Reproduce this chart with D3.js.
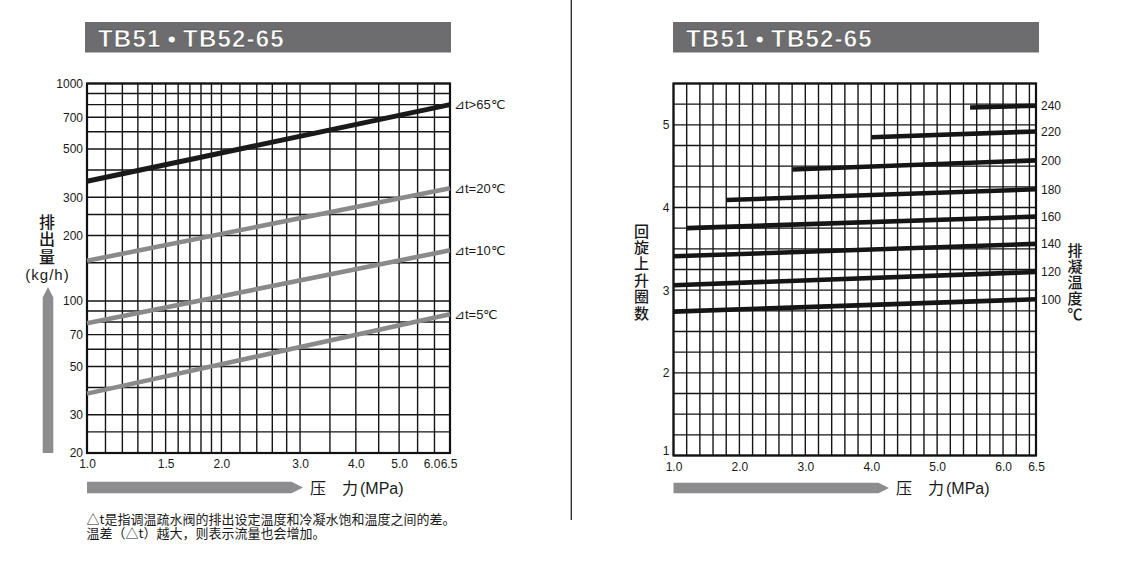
<!DOCTYPE html>
<meta charset="utf-8">
<style>
body { margin: 0; background: #fff; }
svg { display: block; }
text { font-family: "Liberation Sans", Arial, sans-serif; fill: #1a1a1a; }
.cjk { font-family: "Noto Sans CJK SC", sans-serif; }
.grid line { stroke: #151515; stroke-width: 1.4px; }
</style>
<body>
<script src="https://d3js.org/d3.v7.min.js"></script>
<script>
// left chart: discharge (kg/h) vs pressure (MPa), log-log
var pressTicksL = [1.0, 1.5, 2.0, 3.0, 4.0, 5.0, 6.0, 6.5];
var pressGridL = [1.0, 1.1, 1.2, 1.3, 1.4, 1.5, 1.6, 1.7, 1.8, 1.9, 2.0,
                  2.2, 2.4, 2.6, 2.8, 3.0, 3.5, 4.0, 4.5, 5.0, 5.5, 6.0, 6.5];
var flowTicks = [20, 30, 50, 70, 100, 200, 300, 500, 700, 1000];
var flowGrid = [20, 25, 30, 40, 50, 60, 70, 80, 90, 100, 150,
                200, 250, 300, 400, 500, 600, 700, 800, 900, 1000];
var dtLabels = ["⊿t>65℃", "⊿t=20℃", "⊿t=10℃", "⊿t=5℃"];
var dtFlowAt1 = [355, 153, 79, 37.5];
var dtFlowAt65 = [800, 330, 171, 87];

// right chart: adjusting turns vs pressure, one line per discharge temperature
var pressTicksR = [1.0, 2.0, 3.0, 4.0, 5.0, 6.0, 6.5];
var turnTicks = [1, 2, 3, 4, 5];
var tempLabels = [100, 120, 140, 160, 180, 200, 220, 240];
var tempStartPress = [1.0, 1.0, 1.0, 1.2, 1.8, 2.8, 4.0, 5.5];
var tempStartTurns = [2.74, 3.06, 3.41, 3.75, 4.09, 4.46, 4.85, 5.21];
var tempEndTurns = [2.89, 3.22, 3.56, 3.89, 4.22, 4.57, 4.92, 5.23];

var title = "TB51\u2009\u2022\u2009TB52-65";
var footnote = ["△t是指调温疏水阀的排出设定温度和冷凝水饱和温度之间的差。",
                "温差（△t）越大，则表示流量也会增加。"];

var width = 1123, height = 572;

var svg = d3.select("body").append("svg")
    .attr("width", width)
    .attr("height", height);

svg.append("rect").attr("width", width).attr("height", height).attr("fill", "#fff");

var xL = d3.scaleLog().domain([1, 6.5]).range([87, 450]);
var yL = d3.scaleLog().domain([20, 1000]).range([453, 83.5]);
var xR = d3.scaleLinear().domain([1, 6.5]).range([673.5, 1036]);
var yR = d3.scaleLinear().domain([1, 5.5]).range([455.5, 83.5]);

// divider
svg.append("line")
    .attr("x1", 571.3).attr("x2", 571.3)
    .attr("y1", 0).attr("y2", 520)
    .attr("stroke", "#222").attr("stroke-width", 1.3);

function titleBar(x0, x1) {
  svg.append("rect")
      .attr("x", x0).attr("y", 22)
      .attr("width", x1 - x0).attr("height", 30.5)
      .attr("fill", "#6d6d6f");
  svg.append("text")
      .attr("x", x0 + 13).attr("y", 46.5)
      .style("font-size", "24px")
      .style("font-weight", "bold")
      .style("letter-spacing", "1.2px")
      .style("fill", "#fff")
      .style("stroke", "#2a2a2a")
      .style("stroke-width", "0.4px")
      .text(title);
}
titleBar(85, 451);
titleBar(673, 1039);

function grid(xs, ys, xVals, yVals) {
  var g = svg.append("g").attr("class", "grid");
  var xr = xs.range(), yr = ys.range();
  g.selectAll(".v").data(xVals).enter().append("line")
      .attr("x1", function(d) { return xs(d); })
      .attr("x2", function(d) { return xs(d); })
      .attr("y1", yr[0]).attr("y2", yr[1]);
  g.selectAll(".h").data(yVals).enter().append("line")
      .attr("x1", xr[0]).attr("x2", xr[1])
      .attr("y1", function(d) { return ys(d); })
      .attr("y2", function(d) { return ys(d); });
  svg.append("rect")
      .attr("x", xr[0]).attr("y", yr[1])
      .attr("width", xr[1] - xr[0]).attr("height", yr[0] - yr[1])
      .attr("fill", "none").attr("stroke", "#111").attr("stroke-width", 2.2);
}

// ---------- left chart ----------
grid(xL, yL, pressGridL, flowGrid);

var lineL = d3.line()
    .x(function(d) { return xL(d[0]); })
    .y(function(d) { return yL(d[1]); });

var dtSeries = dtLabels.map(function(lab, i) {
  return { label: lab, pts: [[1.0, dtFlowAt1[i]], [6.5, dtFlowAt65[i]]], first: i === 0 };
});

svg.append("g").selectAll("path").data(dtSeries).enter().append("path")
    .attr("d", function(d) { return lineL(d.pts); })
    .attr("fill", "none")
    .attr("stroke", function(d) { return d.first ? "#1a1a1a" : "#8a8a8a"; })
    .attr("stroke-width", function(d) { return d.first ? 5 : 4.6; });

svg.append("g").selectAll("text").data(dtSeries).enter().append("text")
    .attr("x", xL(6.5) + 4)
    .attr("y", function(d) { return yL(d.pts[1][1]); })
    .attr("dy", "0.36em")
    .style("font-size", "13px")
    .text(function(d) { return d.label; });

svg.append("g")
    .attr("transform", "translate(" + xL.range()[0] + ",0)")
    .call(d3.axisLeft(yL).tickValues(flowTicks).tickFormat(d3.format("d")).tickSize(0).tickPadding(4));
var axB = svg.append("g")
    .attr("transform", "translate(0," + yL.range()[0] + ")")
    .call(d3.axisBottom(xL).tickValues(pressTicksL).tickFormat(d3.format(".1f")).tickSize(0).tickPadding(6));
axB.selectAll(".tick text").attr("dx", function(d) { return d === 6.0 ? -3 : (d === 6.5 ? -1.5 : 0); });

// ---------- right chart ----------
grid(xR, yR, d3.range(28).map(function(i) { return 1 + i * 0.2; }),
     d3.range(19).map(function(i) { return 1 + i * 0.25; }));

var lineR = d3.line()
    .x(function(d) { return xR(d[0]); })
    .y(function(d) { return yR(d[1]); });

var tempSeries = tempLabels.map(function(t, i) {
  return { label: t, pts: [[tempStartPress[i], tempStartTurns[i]], [6.5, tempEndTurns[i]]] };
});

svg.append("g").selectAll("path").data(tempSeries).enter().append("path")
    .attr("d", function(d) { return lineR(d.pts); })
    .attr("fill", "none")
    .attr("stroke", "#151515")
    .attr("stroke-width", 4.6);

svg.append("g").selectAll("text").data(tempSeries).enter().append("text")
    .attr("x", xR(6.5) + 5)
    .attr("y", function(d) { return yR(d.pts[1][1]); })
    .attr("dy", "0.36em")
    .style("font-size", "12px")
    .text(function(d) { return d.label; });

var axR = svg.append("g")
    .attr("transform", "translate(" + xR.range()[0] + ",0)")
    .call(d3.axisLeft(yR).tickValues(turnTicks).tickFormat(d3.format("d")).tickSize(0).tickPadding(4));
// the bottom label "1" sits a little above the corner
axR.selectAll(".tick text").attr("y", function(d) { return d === 1 ? -5 : 0; });
svg.append("g")
    .attr("transform", "translate(0," + yR.range()[0] + ")")
    .call(d3.axisBottom(xR).tickValues(pressTicksR).tickFormat(d3.format(".1f")).tickSize(0).tickPadding(7));

svg.selectAll(".domain").remove();
svg.selectAll(".tick text").style("font-size", "12px").style("fill", "#1a1a1a")
    .style("font-family", "'Liberation Sans', Arial, sans-serif");

// ---------- arrows and axis titles ----------
var arrowFill = "#8d8d90";
function hArrow(x0, x1, yc, h) {
  var head = h;
  svg.append("polygon")
      .attr("points", [[x0, yc - h / 2], [x1 - head, yc - h / 2], [x1, yc],
                       [x1 - head, yc + h / 2], [x0, yc + h / 2]].join(" "))
      .attr("fill", arrowFill);
}
hArrow(xL.range()[0], 303, 487.5, 11.5);
hArrow(xR.range()[0], 889, 488, 10.5);

// upward arrow on left
(function() {
  var xc = 48, w = 10.6, y0 = yL.range()[0], y1 = 287;
  svg.append("polygon")
      .attr("points", [[xc - w / 2, y0], [xc - w / 2, y1 + w], [xc, y1],
                       [xc + w / 2, y1 + w], [xc + w / 2, y0]].join(" "))
      .attr("fill", arrowFill);
})();

function pressLabel(x) {
  var t = svg.append("text").attr("x", x).attr("y", 494)
      .attr("class", "cjk").style("font-size", "16px");
  t.append("tspan").text("压　力");
  t.append("tspan").attr("dx", 2).style("font-family", "'Liberation Sans', Arial, sans-serif").text("(MPa)");
}
pressLabel(310);
pressLabel(896);

// vertical (top-to-bottom) CJK titles
function vertText(str, xc, yTop, size, spacing) {
  svg.append("text")
      .attr("class", "cjk")
      .attr("x", xc)
      .attr("y", yTop)
      .style("writing-mode", "vertical-rl")
      .style("font-size", size + "px")
      .style("font-weight", "500")
      .style("letter-spacing", spacing + "px")
      .text(str);
}
vertText("排出量", 47, 213.5, 16, 1.5);
svg.append("text")
    .attr("x", 47.5).attr("y", 275).attr("dy", "0.36em")
    .attr("text-anchor", "middle")
    .style("font-size", "15px")
    .style("letter-spacing", "1px")
    .text("(kg/h)");

vertText("回旋上升圈数", 641.5, 223.5, 15, 1.4);
vertText("排凝温度℃", 1075, 242.5, 15, 1);

// footnote, two lines
svg.append("text")
    .attr("class", "cjk")
    .attr("x", 86.5).attr("y", 523.5)
    .style("font-size", "13px")
    .text(footnote[0]);
svg.append("text")
    .attr("class", "cjk")
    .attr("x", 86.5).attr("y", 538)
    .style("font-size", "13px")
    .text(footnote[1]);
</script>
</body>
</html>
